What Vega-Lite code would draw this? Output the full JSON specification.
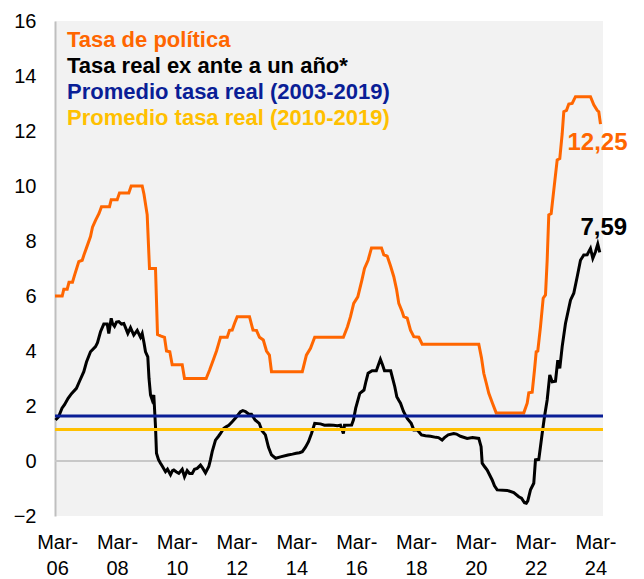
{
  "$schema": "https://vega.github.io/schema/vega-lite/v6.json",
  "width": 548,
  "height": 495,
  "autosize": {"type": "none"},
  "padding": {"left": 55, "top": 21, "right": 41, "bottom": 63},
  "background": "#ffffff",
  "config": {
    "font": "Liberation Sans",
    "view": {"fill": "#f2f2f2", "stroke": null},
    "axis": {"grid": false, "ticks": false, "title": null, "labelFont": "Liberation Sans", "labelFontSize": 20, "labelColor": "#000000"}
  },
  "datasets": {
    "politica": [
      {"t":2006.093,"v":6},{"t":2006.334,"v":6},{"t":2006.388,"v":6.25},{"t":2006.501,"v":6.25},{"t":2006.561,"v":6.5},{"t":2006.678,"v":6.5},{"t":2006.745,"v":6.75},{"t":2006.889,"v":7.25},{"t":2007.003,"v":7.3},{"t":2007.063,"v":7.5},{"t":2007.146,"v":7.75},{"t":2007.28,"v":8.16},{"t":2007.347,"v":8.5},{"t":2007.448,"v":8.75},{"t":2007.565,"v":9.0},{"t":2007.648,"v":9.25},{"t":2007.916,"v":9.25},{"t":2007.973,"v":9.5},{"t":2008.173,"v":9.5},{"t":2008.25,"v":9.75},{"t":2008.561,"v":9.75},{"t":2008.641,"v":10.0},{"t":2009.009,"v":10.0},{"t":2009.069,"v":9.7},{"t":2009.176,"v":8.95},{"t":2009.253,"v":7.0},{"t":2009.454,"v":7.0},{"t":2009.521,"v":4.6},{"t":2009.621,"v":4.55},{"t":2009.755,"v":4.5},{"t":2009.822,"v":4.0},{"t":2009.932,"v":3.97},{"t":2010.012,"v":3.5},{"t":2010.347,"v":3.5},{"t":2010.424,"v":3.0},{"t":2011.149,"v":3.0},{"t":2011.26,"v":3.3},{"t":2011.404,"v":3.73},{"t":2011.494,"v":4.0},{"t":2011.561,"v":4.25},{"t":2011.628,"v":4.5},{"t":2011.852,"v":4.5},{"t":2011.929,"v":4.75},{"t":2012.019,"v":4.76},{"t":2012.096,"v":5.0},{"t":2012.186,"v":5.25},{"t":2012.597,"v":5.25},{"t":2012.714,"v":4.76},{"t":2012.831,"v":4.75},{"t":2012.932,"v":4.5},{"t":2013.059,"v":4.4},{"t":2013.166,"v":4.0},{"t":2013.263,"v":3.85},{"t":2013.333,"v":3.25},{"t":2014.363,"v":3.25},{"t":2014.5,"v":3.85},{"t":2014.637,"v":4.1},{"t":2014.778,"v":4.5},{"t":2015.737,"v":4.5},{"t":2015.874,"v":4.88},{"t":2015.975,"v":5.25},{"t":2016.082,"v":5.73},{"t":2016.219,"v":5.97},{"t":2016.356,"v":6.58},{"t":2016.443,"v":7.0},{"t":2016.563,"v":7.3},{"t":2016.677,"v":7.75},{"t":2017.011,"v":7.75},{"t":2017.088,"v":7.5},{"t":2017.202,"v":7.45},{"t":2017.312,"v":7.1},{"t":2017.423,"v":6.7},{"t":2017.513,"v":6.25},{"t":2017.59,"v":5.73},{"t":2017.704,"v":5.43},{"t":2017.757,"v":5.25},{"t":2017.871,"v":5.2},{"t":2017.981,"v":4.76},{"t":2018.092,"v":4.52},{"t":2018.259,"v":4.5},{"t":2018.372,"v":4.25},{"t":2020.265,"v":4.25},{"t":2020.355,"v":3.75},{"t":2020.432,"v":3.19},{"t":2020.523,"v":2.8},{"t":2020.6,"v":2.46},{"t":2020.723,"v":2.1},{"t":2020.847,"v":1.75},{"t":2021.77,"v":1.75},{"t":2021.884,"v":2.1},{"t":2021.937,"v":2.48},{"t":2022.051,"v":2.5},{"t":2022.128,"v":3.31},{"t":2022.185,"v":3.97},{"t":2022.238,"v":4.0},{"t":2022.328,"v":4.88},{"t":2022.419,"v":5.92},{"t":2022.496,"v":6.04},{"t":2022.552,"v":7.3},{"t":2022.606,"v":8.95},{"t":2022.686,"v":9.0},{"t":2022.773,"v":9.85},{"t":2022.887,"v":10.95},{"t":2022.974,"v":11.0},{"t":2023.054,"v":11.9},{"t":2023.108,"v":12.7},{"t":2023.198,"v":12.75},{"t":2023.275,"v":12.98},{"t":2023.388,"v":13.0},{"t":2023.499,"v":13.25},{"t":2024.0,"v":13.25},{"t":2024.111,"v":12.95},{"t":2024.224,"v":12.75},{"t":2024.278,"v":12.7},{"t":2024.335,"v":12.25}
    ],
    "real": [
      {"t":2006.11,"v":1.49},{"t":2006.21,"v":1.6},{"t":2006.327,"v":1.92},{"t":2006.411,"v":2.05},{"t":2006.531,"v":2.28},{"t":2006.645,"v":2.45},{"t":2006.809,"v":2.64},{"t":2006.913,"v":2.9},{"t":2007.056,"v":3.25},{"t":2007.146,"v":3.6},{"t":2007.28,"v":3.97},{"t":2007.448,"v":4.16},{"t":2007.514,"v":4.3},{"t":2007.615,"v":4.7},{"t":2007.725,"v":4.98},{"t":2007.839,"v":4.98},{"t":2007.892,"v":4.64},{"t":2007.973,"v":5.19},{"t":2008.016,"v":5.0},{"t":2008.083,"v":4.9},{"t":2008.15,"v":5.05},{"t":2008.227,"v":5.07},{"t":2008.317,"v":4.98},{"t":2008.394,"v":5.0},{"t":2008.451,"v":4.85},{"t":2008.528,"v":4.64},{"t":2008.618,"v":4.85},{"t":2008.728,"v":4.58},{"t":2008.842,"v":4.75},{"t":2008.952,"v":4.5},{"t":2009.009,"v":4.64},{"t":2009.069,"v":4.3},{"t":2009.12,"v":3.97},{"t":2009.196,"v":3.79},{"t":2009.237,"v":3.0},{"t":2009.287,"v":2.4},{"t":2009.344,"v":2.22},{"t":2009.397,"v":2.4},{"t":2009.454,"v":1.25},{"t":2009.487,"v":0.28},{"t":2009.554,"v":0.05},{"t":2009.621,"v":-0.08},{"t":2009.688,"v":-0.2},{"t":2009.788,"v":-0.39},{"t":2009.855,"v":-0.3},{"t":2009.956,"v":-0.5},{"t":2010.022,"v":-0.35},{"t":2010.066,"v":-0.33},{"t":2010.156,"v":-0.4},{"t":2010.233,"v":-0.45},{"t":2010.347,"v":-0.3},{"t":2010.424,"v":-0.57},{"t":2010.514,"v":-0.35},{"t":2010.591,"v":-0.45},{"t":2010.681,"v":-0.45},{"t":2010.758,"v":-0.3},{"t":2010.848,"v":-0.27},{"t":2010.959,"v":-0.15},{"t":2011.026,"v":-0.25},{"t":2011.126,"v":-0.43},{"t":2011.236,"v":-0.2},{"t":2011.293,"v":0.05},{"t":2011.35,"v":0.34},{"t":2011.46,"v":0.76},{"t":2011.561,"v":0.9},{"t":2011.628,"v":1.0},{"t":2011.738,"v":1.19},{"t":2011.828,"v":1.25},{"t":2011.905,"v":1.3},{"t":2012.019,"v":1.43},{"t":2012.166,"v":1.61},{"t":2012.296,"v":1.79},{"t":2012.373,"v":1.83},{"t":2012.463,"v":1.8},{"t":2012.577,"v":1.7},{"t":2012.664,"v":1.7},{"t":2012.785,"v":1.49},{"t":2012.922,"v":1.37},{"t":2013.015,"v":1.1},{"t":2013.129,"v":0.95},{"t":2013.233,"v":0.5},{"t":2013.333,"v":0.22},{"t":2013.47,"v":0.1},{"t":2013.634,"v":0.15},{"t":2013.885,"v":0.22},{"t":2014.035,"v":0.25},{"t":2014.159,"v":0.28},{"t":2014.269,"v":0.3},{"t":2014.363,"v":0.34},{"t":2014.47,"v":0.5},{"t":2014.57,"v":0.7},{"t":2014.671,"v":1.0},{"t":2014.778,"v":1.37},{"t":2014.972,"v":1.35},{"t":2015.105,"v":1.3},{"t":2015.256,"v":1.31},{"t":2015.406,"v":1.3},{"t":2015.533,"v":1.28},{"t":2015.64,"v":1.3},{"t":2015.737,"v":1.0},{"t":2015.774,"v":1.3},{"t":2016.012,"v":1.31},{"t":2016.075,"v":1.5},{"t":2016.149,"v":1.92},{"t":2016.286,"v":2.46},{"t":2016.426,"v":2.58},{"t":2016.493,"v":2.9},{"t":2016.563,"v":3.19},{"t":2016.697,"v":3.28},{"t":2016.838,"v":3.28},{"t":2016.975,"v":3.7},{"t":2017.045,"v":3.5},{"t":2017.112,"v":3.28},{"t":2017.319,"v":3.28},{"t":2017.456,"v":2.7},{"t":2017.523,"v":2.34},{"t":2017.593,"v":2.2},{"t":2017.647,"v":2.1},{"t":2017.747,"v":1.8},{"t":2017.871,"v":1.55},{"t":2018.005,"v":1.37},{"t":2018.092,"v":1.13},{"t":2018.212,"v":1.13},{"t":2018.349,"v":0.95},{"t":2018.483,"v":0.92},{"t":2018.65,"v":0.9},{"t":2018.831,"v":0.86},{"t":2018.917,"v":0.85},{"t":2019.038,"v":0.76},{"t":2019.118,"v":0.85},{"t":2019.242,"v":0.95},{"t":2019.429,"v":1.0},{"t":2019.519,"v":0.98},{"t":2019.653,"v":0.9},{"t":2019.877,"v":0.82},{"t":2020.054,"v":0.85},{"t":2020.265,"v":0.82},{"t":2020.342,"v":0.52},{"t":2020.379,"v":-0.08},{"t":2020.456,"v":-0.2},{"t":2020.546,"v":-0.33},{"t":2020.713,"v":-0.69},{"t":2020.79,"v":-0.9},{"t":2020.88,"v":-1.05},{"t":2021.215,"v":-1.07},{"t":2021.435,"v":-1.15},{"t":2021.603,"v":-1.3},{"t":2021.693,"v":-1.35},{"t":2021.793,"v":-1.52},{"t":2021.854,"v":-1.54},{"t":2021.904,"v":-1.45},{"t":2021.994,"v":-1.05},{"t":2022.104,"v":-0.81},{"t":2022.161,"v":0.04},{"t":2022.272,"v":0.06},{"t":2022.385,"v":1.0},{"t":2022.462,"v":1.61},{"t":2022.552,"v":2.22},{"t":2022.639,"v":3.13},{"t":2022.72,"v":2.88},{"t":2022.83,"v":2.9},{"t":2022.907,"v":3.67},{"t":2022.974,"v":3.37},{"t":2023.054,"v":4.16},{"t":2023.164,"v":5.0},{"t":2023.332,"v":5.85},{"t":2023.442,"v":6.1},{"t":2023.556,"v":6.7},{"t":2023.666,"v":7.3},{"t":2023.776,"v":7.49},{"t":2023.89,"v":7.5},{"t":2024.0,"v":7.73},{"t":2024.078,"v":7.37},{"t":2024.168,"v":7.61},{"t":2024.244,"v":7.89},{"t":2024.311,"v":7.59}
    ],
    "promedios": [
      {"serie": "Promedio tasa real (2003-2019)", "v": 1.64},
      {"serie": "Promedio tasa real (2010-2019)", "v": 1.15}
    ],
    "etiquetas": [
      {"t": 2024.335, "v": 12.25, "txt": "12,25"},
      {"t": 2024.311, "v": 7.59, "txt": "7,59"}
    ]
  },
  "layer": [
    {
      "data": {"values": [{"v": 0}]},
      "mark": {"type": "rule", "color": "#c8c8c8", "strokeWidth": 2},
      "encoding": {"y": {"field": "v", "type": "quantitative"}}
    },
    {
      "data": {"name": "politica"},
      "mark": {"type": "line", "strokeWidth": 3},
      "encoding": {
        "x": {
          "field": "t", "type": "quantitative",
          "scale": {"domain": [2006.093, 2024.419], "nice": false, "zero": false},
          "axis": {
            "values": [2006.1667, 2008.1667, 2010.1667, 2012.1667, 2014.1667, 2016.1667, 2018.1667, 2020.1667, 2022.1667, 2024.1667],
            "labelExpr": "['Mar-', substring('' + floor(datum.value), 2)]",
            "domain": false, "labelFlush": false, "labelOverlap": false, "labelBound": false,
            "labelAlign": "center", "labelBaseline": "top", "labelLineHeight": 26, "labelPadding": 16
          }
        },
        "y": {
          "field": "v", "type": "quantitative",
          "scale": {"domain": [-2, 16], "nice": false, "zero": false},
          "axis": {
            "values": [-2, 0, 2, 4, 6, 8, 10, 12, 14, 16],
            "domain": true, "domainColor": "#bfbfbf", "domainWidth": 2, "labelPadding": 19
          }
        },
        "color": {
          "datum": "Tasa de política",
          "type": "nominal",
          "title": null,
          "scale": {
            "domain": ["Tasa de política", "Tasa real ex ante a un año*", "Promedio tasa real (2003-2019)", "Promedio tasa real (2010-2019)"],
            "range": ["#ff6600", "#000000", "#0a1e96", "#ffc000"]
          },
          "legend": {
            "orient": "none", "legendX": -10, "legendY": 8, "title": null,
            "symbolSize": 0, "symbolOpacity": 0, "symbolStrokeWidth": 0, "labelOffset": 0,
            "labelFont": "Liberation Sans", "labelFontSize": 22, "labelFontWeight": "bold", "labelLimit": 600,
            "rowPadding": 4,
            "encode": {"labels": {"update": {"fill": {"signal": "scale('color', datum.value)"}}}}
          }
        }
      }
    },
    {
      "data": {"name": "real"},
      "mark": {"type": "line", "strokeWidth": 3},
      "encoding": {
        "x": {"field": "t", "type": "quantitative"},
        "y": {"field": "v", "type": "quantitative"},
        "color": {"datum": "Tasa real ex ante a un año*", "type": "nominal", "title": null}
      }
    },
    {
      "data": {"name": "promedios"},
      "mark": {"type": "rule", "strokeWidth": 3},
      "encoding": {
        "y": {"field": "v", "type": "quantitative"},
        "color": {"field": "serie", "type": "nominal", "title": null}
      }
    },
    {
      "data": {"name": "etiquetas"},
      "transform": [{"filter": "datum.txt == '12,25'"}],
      "mark": {"type": "text", "color": "#ff6600", "fontSize": 24, "fontWeight": "bold", "font": "Liberation Sans", "align": "center", "baseline": "middle", "dx": -3, "dy": 19},
      "encoding": {
        "x": {"field": "t", "type": "quantitative"},
        "y": {"field": "v", "type": "quantitative"},
        "text": {"field": "txt"}
      }
    },
    {
      "data": {"name": "etiquetas"},
      "transform": [{"filter": "datum.txt == '7,59'"}],
      "mark": {"type": "text", "color": "#000000", "fontSize": 24, "fontWeight": "bold", "font": "Liberation Sans", "align": "center", "baseline": "middle", "dx": 4, "dy": -24},
      "encoding": {
        "x": {"field": "t", "type": "quantitative"},
        "y": {"field": "v", "type": "quantitative"},
        "text": {"field": "txt"}
      }
    }
  ]
}
